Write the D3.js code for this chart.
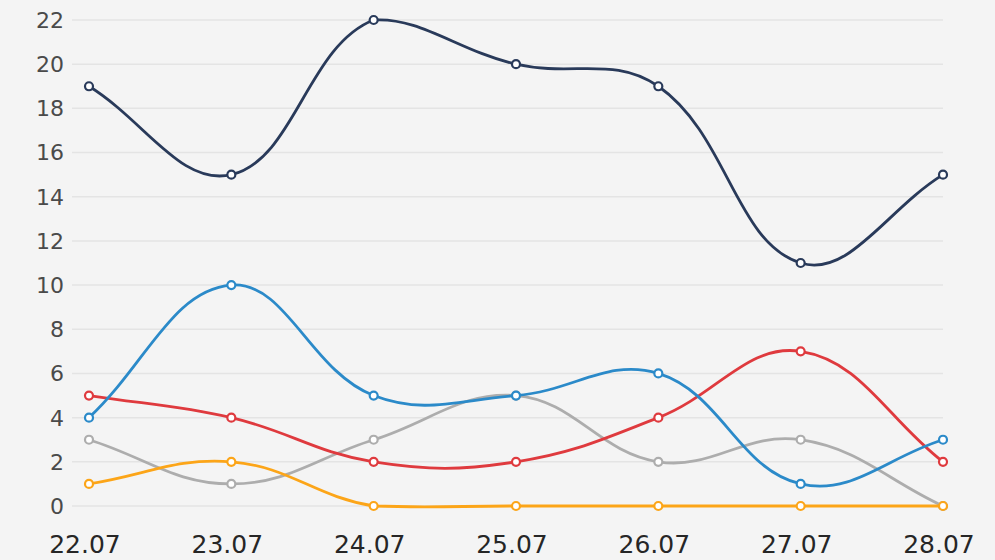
<!DOCTYPE html>
<html>
<head>
<meta charset="utf-8">
<script src="https://cdn.jsdelivr.net/npm/d3@7"></script>
<style>
  html, body { margin: 0; padding: 0; background: #f4f4f4; }
  svg { display: block; }
</style>
</head>
<body>
<div id="chart"></div>
<script>
// dates on the x axis
var dates = ['22.07', '23.07', '24.07', '25.07', '26.07', '27.07', '28.07'];

// series values, one array per line
var navyValues = [19, 15, 22, 20, 19, 11, 15];
var blueValues = [4, 10, 5, 5, 6, 1, 3];
var redValues = [5, 4, 2, 2, 4, 7, 2];
var grayValues = [3, 1, 3, 5, 2, 3, 0];
var orangeValues = [1, 2, 0, 0, 0, 0, 0];

// y axis ticks
var yTicks = [0, 2, 4, 6, 8, 10, 12, 14, 16, 18, 20, 22];

var series = [
  { name: 'navy', color: '#293a5a', values: navyValues },
  { name: 'gray', color: '#adadad', values: grayValues },
  { name: 'orange', color: '#fca518', values: orangeValues },
  { name: 'red', color: '#df3a3e', values: redValues },
  { name: 'blue', color: '#2b8ac9', values: blueValues }
];

var width = 995, height = 560;
var margin = { top: 20, right: 52, bottom: 54, left: 89 };
var gridLeft = 72;
var tension = 0.4;

var svg = d3.select('#chart').append('svg')
  .attr('width', width)
  .attr('height', height);

var x = d3.scalePoint()
  .domain(dates)
  .range([margin.left, width - margin.right]);

var y = d3.scaleLinear()
  .domain([0, 22])
  .range([height - margin.bottom, margin.top]);

//area the control points are kept inside
var area = { left: x.range()[0], right: x.range()[1], top: y(22) - 3, bottom: y(0) + 2 };

//distance weighted spline, control points capped to the plot area
function splinePath(values) {
  var pts = values.map(function (v, i) { return { x: x(dates[i]), y: y(v) }; });
  var n = pts.length;
  pts.forEach(function (p, i) {
    var prev = pts[Math.max(i - 1, 0)], next = pts[Math.min(i + 1, n - 1)];
    var d01 = Math.hypot(p.x - prev.x, p.y - prev.y),
      d12 = Math.hypot(next.x - p.x, next.y - p.y);
    var s01 = d01 / (d01 + d12) || 0, s12 = d12 / (d01 + d12) || 0;
    var fa = tension * s01, fb = tension * s12;
    p.cpPrev = { x: p.x - fa * (next.x - prev.x), y: p.y - fa * (next.y - prev.y) };
    p.cpNext = { x: p.x + fb * (next.x - prev.x), y: p.y + fb * (next.y - prev.y) };
    [p.cpPrev, p.cpNext].forEach(function (c) {
      c.x = Math.max(area.left, Math.min(area.right, c.x));
      c.y = Math.max(area.top, Math.min(area.bottom, c.y));
    });
  });
  var path = d3.path();
  path.moveTo(pts[0].x, pts[0].y);
  for (var i = 1; i < n; i++) {
    path.bezierCurveTo(pts[i - 1].cpNext.x, pts[i - 1].cpNext.y, pts[i].cpPrev.x, pts[i].cpPrev.y, pts[i].x, pts[i].y);
  }
  return path.toString();
}

//horizontal grid lines
svg.append('g')
  .selectAll('line')
  .data(yTicks)
  .enter().append('line')
  .attr('x1', gridLeft)
  .attr('x2', width - margin.right)
  .attr('y1', function (d) { return y(d); })
  .attr('y2', function (d) { return y(d); })
  .attr('stroke', '#e4e4e4')
  .attr('stroke-width', 1.5);

//y labels
svg.append('g')
  .selectAll('text')
  .data(yTicks)
  .enter().append('text')
  .attr('x', 64)
  .attr('y', function (d) { return y(d); })
  .attr('dy', '0.36em')
  .attr('text-anchor', 'end')
  .attr('font-family', 'DejaVu Sans, sans-serif')
  .attr('font-size', 22)
  .attr('fill', '#4a4a4a')
  .text(function (d) { return d; });

//x labels
svg.append('g')
  .selectAll('text')
  .data(dates)
  .enter().append('text')
  .attr('x', function (d) { return x(d) - 4; })
  .attr('y', 553)
  .attr('text-anchor', 'middle')
  .attr('font-family', 'DejaVu Sans, sans-serif')
  .attr('font-size', 25)
  .attr('fill', '#262626')
  .text(function (d) { return d; });

var groups = svg.append('g')
  .selectAll('g')
  .data(series)
  .enter().append('g');

groups.append('path')
  .attr('d', function (s) { return splinePath(s.values); })
  .attr('fill', 'none')
  .attr('stroke', function (s) { return s.color; })
  .attr('stroke-width', 2.8);

//hollow point markers
groups.selectAll('circle')
  .data(function (s) { return s.values.map(function (v, i) { return { v: v, i: i, color: s.color }; }); })
  .enter().append('circle')
  .attr('cx', function (d) { return x(dates[d.i]); })
  .attr('cy', function (d) { return y(d.v); })
  .attr('r', 4)
  .attr('fill', '#ffffff')
  .attr('stroke', function (d) { return d.color; })
  .attr('stroke-width', 2.2);
</script>
</body>
</html>
